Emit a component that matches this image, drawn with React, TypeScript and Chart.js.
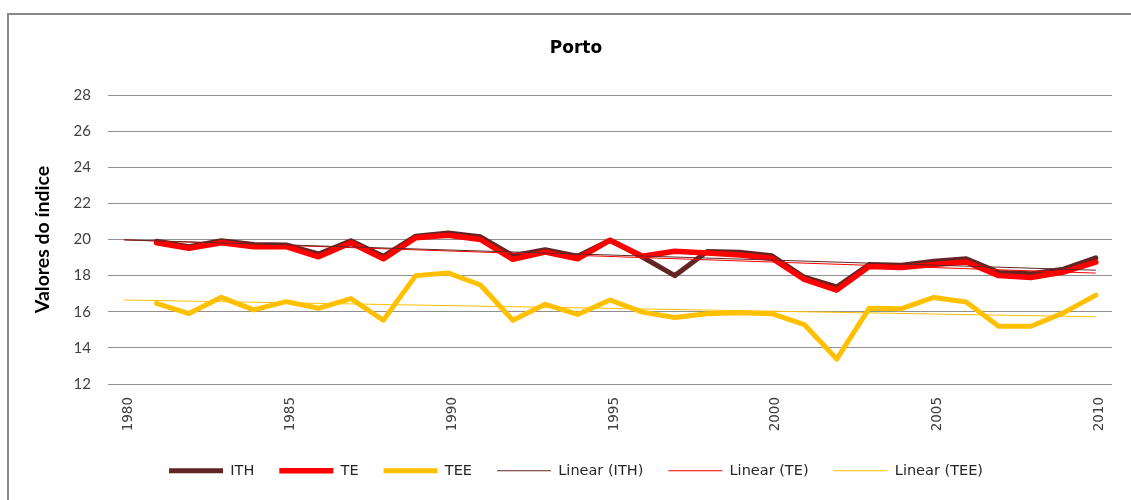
import React, { useEffect, useRef } from 'react';
import { Chart, registerables } from 'chart.js';

Chart.register(...registerables);

const years = [
  '1980', '1981', '1982', '1983', '1984', '1985', '1986', '1987', '1988', '1989',
  '1990', '1991', '1992', '1993', '1994', '1995', '1996', '1997', '1998', '1999',
  '2000', '2001', '2002', '2003', '2004', '2005', '2006', '2007', '2008', '2009', '2010',
];

const ithValues = [
  null, 19.9, 19.6, 19.93, 19.73, 19.7, 19.2, 19.93, 19.07, 20.18,
  20.36, 20.15, 19.1, 19.43, 19.07, 19.96, 19.03, 18.0, 19.34, 19.3,
  19.1, 17.91, 17.37, 18.62, 18.57, 18.8, 18.93, 18.18, 18.1, 18.36, 18.98,
];

const teValues = [
  null, 19.82, 19.52, 19.82, 19.6, 19.6, 19.04, 19.82, 18.93, 20.1,
  20.23, 20.0, 18.9, 19.3, 18.93, 19.96, 19.07, 19.35, 19.25, 19.14,
  18.96, 17.79, 17.2, 18.5, 18.45, 18.62, 18.75, 18.0, 17.9, 18.2, 18.75,
];

const teeValues = [
  null, 16.47, 15.9, 16.8, 16.1, 16.56, 16.19, 16.73, 15.53, 18.0,
  18.15, 17.48, 15.53, 16.41, 15.85, 16.65, 15.98, 15.68, 15.89, 15.94,
  15.89, 15.29, 13.38, 16.19, 16.17, 16.79, 16.54, 15.2, 15.2, 15.94, 16.92,
];

// trend line end values (first and last category)
const ithTrendEnds = [19.98, 18.3];
const teTrendEnds = [19.98, 18.14];
const teeTrendEnds = [16.65, 15.72];

const yMin = 12;
const yMax = 28;
const yStep = 2;
const xLabelEvery = 5;

const seriesNames = ['ITH', 'TE', 'TEE', 'Linear (ITH)', 'Linear (TE)', 'Linear (TEE)'];

function trendSeries(ends: number[]) {
  return years.map((_, i) => (i === 0 ? ends[0] : i === years.length - 1 ? ends[1] : null));
}

export default function App() {
  const ref = useRef<HTMLCanvasElement>(null);

  useEffect(() => {
    if (!ref.current) return;
    const chart = new Chart(ref.current, {
      type: 'line',
      data: {
        labels: years,
        datasets: [
          {
            label: seriesNames[0], data: ithValues, borderColor: '#632523', backgroundColor: '#632523',
            borderWidth: 5, borderCapStyle: 'round', borderJoinStyle: 'round', order: 2,
          },
          {
            label: seriesNames[1], data: teValues, borderColor: '#FF0000', backgroundColor: '#FF0000',
            borderWidth: 5.5, borderCapStyle: 'round', borderJoinStyle: 'round', order: 1,
          },
          {
            label: seriesNames[2], data: teeValues, borderColor: '#FFC000', backgroundColor: '#FFC000',
            borderWidth: 5, borderCapStyle: 'round', borderJoinStyle: 'round', order: 1,
          },
          {
            label: seriesNames[3], data: trendSeries(ithTrendEnds), borderColor: '#632523', backgroundColor: '#632523',
            borderWidth: 1, spanGaps: true, borderCapStyle: 'butt', order: 0,
          },
          {
            label: seriesNames[4], data: trendSeries(teTrendEnds), borderColor: '#FF0000', backgroundColor: '#FF0000',
            borderWidth: 1, spanGaps: true, borderCapStyle: 'butt', order: 0,
          },
          {
            label: seriesNames[5], data: trendSeries(teeTrendEnds), borderColor: '#FFC000', backgroundColor: '#FFC000',
            borderWidth: 1, spanGaps: true, borderCapStyle: 'butt', order: 0,
          },
        ],
      },
      options: {
        responsive: false,
        maintainAspectRatio: false,
        animation: false,
        layout: { padding: { left: 30, right: 19, top: 0, bottom: 12 } },
        elements: {
          point: { radius: 0, hoverRadius: 0 },
          line: { tension: 0, fill: false },
        },
        plugins: {
          title: {
            display: true,
            text: 'Porto',
            color: '#000000',
            font: { family: 'DejaVu Sans', size: 17, weight: 'bold' },
            padding: { top: 23.8, bottom: 35.8 },
          },
          legend: {
            position: 'bottom',
            labels: {
              usePointStyle: true,
              pointStyle: 'line',
              pointStyleWidth: 54,
              boxWidth: 54,
              padding: 25,
              color: '#262626',
              font: { family: 'DejaVu Sans', size: 14.5 },
              sort: (a: any, b: any) => a.datasetIndex - b.datasetIndex,
            },
          },
          tooltip: { enabled: false },
        },
        scales: {
          x: {
            type: 'category',
            offset: true,
            grid: { display: false, drawTicks: false },
            border: { display: false },
            ticks: {
              autoSkip: false,
              maxRotation: 90,
              minRotation: 90,
              padding: 13,
              labelOffset: 4,
              color: '#404040',
              font: { family: 'DejaVu Sans', size: 13.5 },
              callback: (_v: any, i: number) => (i % xLabelEvery === 0 ? years[i] : ''),
            },
            afterFit: (scale: any) => { scale.height = 54.5; },
          },
          y: {
            min: yMin,
            max: yMax,
            ticks: {
              stepSize: yStep,
              padding: 17,
              color: '#404040',
              font: { family: 'Lato', size: 15 },
            },
            grid: { color: '#8f8f8f', drawTicks: false },
            border: { display: false },
            title: {
              display: true,
              text: 'Valores do índice',
              color: '#000000',
              font: { family: 'Lato', size: 19.5, weight: 'bold' },
              padding: { top: -9.2, bottom: 19.4 },
            },
            afterFit: (scale: any) => { scale.width = 68; },
          },
        },
      },
    } as any);
    return () => chart.destroy();
  }, []);

  return (
    <div style={{ position: 'absolute', left: 0, top: 0, width: 1131, height: 500, overflow: 'hidden', background: '#ffffff' }}>
      <div style={{ position: 'absolute', left: 7, top: 13, width: 1200, height: 600, border: '2px solid #898989' }} />
      <canvas
        ref={ref}
        width={1121}
        height={485}
        style={{ position: 'absolute', left: 10, top: 15, width: 1121, height: 485, display: 'block' }}
      />
    </div>
  );
}
